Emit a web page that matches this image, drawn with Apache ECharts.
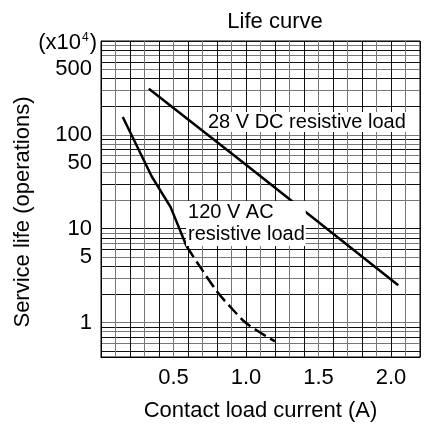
<!DOCTYPE html>
<html>
<head>
<meta charset="utf-8">
<script src="https://cdn.jsdelivr.net/npm/echarts@6/dist/echarts.min.js"></script>
<style>
  html, body { margin: 0; padding: 0; background: #fff; }
</style>
</head>
<body>
<div id="life-chart" style="width: 427px; height: 427px;"></div>
<script>
// 28 V DC resistive load
const dcCurrent = [0.33, 1.0, 2.05];
const dcLife = [310, 48, 2.5];
// 120 V AC resistive load, solid part
const acCurrent = [0.15, 0.35, 0.48, 0.59];
const acLife = [155, 36, 17, 6.5];
// 120 V AC resistive load, dashed part
const acDashCurrent = [0.59, 0.68, 0.8, 0.91, 1.0, 1.1, 1.2];
const acDashLife = [6.5, 4.0, 2.15, 1.37, 0.99, 0.78, 0.63];

// axis ticks (x10^4 operations)
const yLabelValues = [1, 5, 10, 50, 100, 500];
const yGridValues = [
  0.5, 0.6, 0.7, 0.8, 0.9,
  1, 2, 3, 4, 5, 6, 7, 8, 9,
  10, 20, 30, 40, 50, 60, 70, 80, 90,
  100, 200, 300, 400, 500, 600, 700, 800, 900, 1000
];
const xLabelValues = [0.5, 1.0, 1.5, 2.0];

// where the curve labels sit (data space)
const dcLabelAt = [1.42, 137];
const acLabelAt = [0.59, 19.5];

const FONT = "Liberation Sans";

function zip(xs, ys) {
  return xs.map((x, i) => [x, ys[i]]);
}

const myChart = echarts.init(document.getElementById("life-chart"));
const option = {
  animation: false,
  textStyle: { fontFamily: FONT, color: "#000" },
  title: {
    text: "Life curve",
    left: 270,
    textAlign: "center",
    top: 6,
    textStyle: { fontFamily: FONT, fontSize: 22, fontWeight: "normal", color: "#000" },
  },
  grid: {
    left: 101,
    right: 7,
    top: 41,
    bottom: 70,
    outerBoundsMode: "none",
    containLabel: false,
    show: true,
    borderColor: "#000",
    borderWidth: 1,
  },
  xAxis: {
    type: "value",
    min: 0,
    max: 2.2,
    interval: 0.1,
    name: "Contact load current (A)",
    nameLocation: "middle",
    nameGap: 43,
    nameTextStyle: { fontSize: 22, color: "#000", fontFamily: FONT },
    axisLine: { show: true, lineStyle: { color: "#000", width: 1 } },
    axisTick: { show: false },
    axisLabel: {
      fontSize: 22,
      color: "#000",
      margin: 10,
      formatter: (v) => {
        const hit = xLabelValues.some((t) => Math.abs(t - v) < 1e-6);
        return hit ? v.toFixed(1) : "";
      },
    },
    splitLine: {
      show: true,
      lineStyle: { color: ["#111", "#777"], width: 1 },
    },
  },
  yAxis: [
    {
      type: "log",
      logBase: 10,
      min: 0.43,
      max: 1000,
      name: "(x10{sup|4})",
      nameLocation: "end",
      nameGap: -2,
      nameTextStyle: {
        fontSize: 22,
        color: "#000",
        fontFamily: FONT,
        align: "right",
        verticalAlign: "middle",
        padding: [0, 4, 0, 0],
        rich: {
          sup: { fontSize: 12, verticalAlign: "top", padding: [0, 1, 9, 1], fontFamily: FONT },
        },
      },
      axisLine: { show: true, lineStyle: { color: "#000", width: 1 } },
      axisTick: { show: false, customValues: yGridValues },
      axisLabel: {
        fontSize: 22,
        color: "#000",
        margin: 9,
        customValues: yLabelValues,
        formatter: (v) => String(Math.round(v)),
      },
      splitLine: {
        show: true,
        lineStyle: { color: ["#111", "#777"], width: 1 },
      },
    },
    {
      type: "log",
      logBase: 10,
      min: 0.43,
      max: 1000,
      position: "left",
      name: "Service life (operations)",
      nameLocation: "middle",
      nameGap: 67,
      nameRotate: 90,
      nameTextStyle: { fontSize: 22, color: "#000", fontFamily: FONT, padding: [0, 26, 0, 0] },
      axisLine: { show: false },
      axisTick: { show: false },
      axisLabel: { show: false },
      splitLine: { show: false },
    },
  ],
  series: [
    {
      name: "120 V AC",
      type: "line",
      data: zip(acCurrent, acLife),
      symbol: "none",
      lineStyle: { color: "#000", width: 2.5 },
      markPoint: {
        symbol: "rect",
        symbolSize: 1,
        itemStyle: { color: "rgba(0,0,0,0)" },
        label: {
          show: true,
          position: [0, 0],
          align: "left",
          verticalAlign: "top",
          formatter: "120 V AC\nresistive load",
          fontSize: 20,
          lineHeight: 22,
          color: "#000",
          fontFamily: FONT,
          backgroundColor: "#fff",
          padding: [0, 1, 1, 2],
        },
        data: [{ coord: acLabelAt }],
      },
    },
    {
      name: "120 V AC dashed",
      type: "line",
      data: zip(acDashCurrent, acDashLife),
      symbol: "none",
      smooth: 0.3,
      lineStyle: { color: "#000", width: 2.5, type: [13, 5] },
    },
    {
      name: "28 V DC",
      type: "line",
      data: zip(dcCurrent, dcLife),
      symbol: "none",
      lineStyle: { color: "#000", width: 2.5 },
      markPoint: {
        symbol: "rect",
        symbolSize: 1,
        itemStyle: { color: "rgba(0,0,0,0)" },
        label: {
          show: true,
          position: "inside",
          formatter: "28 V DC resistive load",
          fontSize: 20,
          lineHeight: 20,
          color: "#000",
          fontFamily: FONT,
          backgroundColor: "#fff",
          padding: [0, 2],
        },
        data: [{ coord: dcLabelAt }],
      },
    },
  ],
};
myChart.setOption(option);
</script>
</body>
</html>
